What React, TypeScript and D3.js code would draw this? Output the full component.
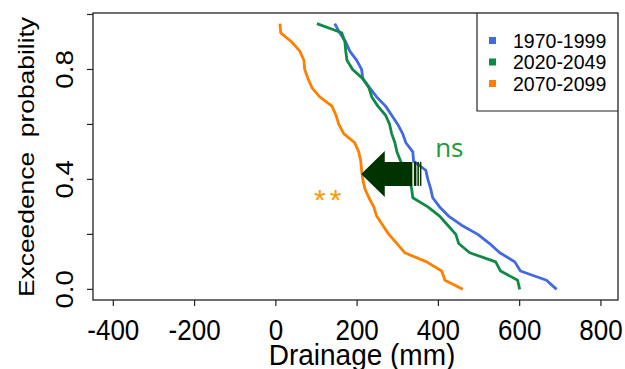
import React from "react";
import * as d3 from "d3";

const seriesNames = ["1970-1999", "2020-2049", "2070-2099"];
const seriesColors = ["#4169E1", "#0E8A45", "#FF7F00"];

const drainage1970 = [145, 157, 172, 182, 199, 211, 214, 231, 248, 270, 285, 300, 312, 320, 337, 339, 369, 374, 381, 386, 403, 425, 457, 497, 526, 551, 588, 602, 666, 691];
const drainage2020 = [101, 162, 170, 172, 175, 189, 214, 229, 236, 251, 270, 280, 285, 293, 298, 307, 320, 329, 334, 337, 374, 403, 423, 443, 450, 477, 541, 553, 595, 600];
const drainage2070 = [10, 12, 39, 59, 69, 71, 79, 89, 108, 138, 148, 155, 167, 194, 204, 209, 211, 214, 219, 229, 241, 248, 263, 278, 298, 317, 371, 408, 416, 460];

const xTicks = [-400, -200, 0, 200, 400, 600, 800];
const yTicks = [0, 0.2, 0.4, 0.6, 0.8, 1.0];
const yTickLabels = ["0.0", "", "0.4", "", "0.8", ""];

// arrow annotation (drainage from -> to at probability level)
const arrowFrom = 336;
const arrowHeadBase = 268;
const arrowTo = 210;
const arrowProb = 0.42;

const W = 625;
const H = 369;
const FONT = "'Liberation Sans', Arial, sans-serif";

function exceedence(values: number[]) {
  const n = values.length;
  return values.map((v) => ({ x: v, p: values.filter((o) => o > v).length / n }));
}

export default function App() {
  const x = d3.scaleLinear().domain([-450, 842]).range([93, 618]);
  const y = d3.scaleLinear().domain([-0.0387, 1.0054]).range([300, 13]);
  const line = d3
    .line<{ x: number; p: number }>()
    .x((d) => x(d.x))
    .y((d) => y(d.p));
  const all = [drainage1970, drainage2020, drainage2070];
  const vs = 1.15;

  const ay = y(arrowProb);
  const tipX = x(arrowTo);
  const baseX = x(arrowHeadBase);
  const endX = x(arrowFrom);
  const arrowPath = `M${tipX},${ay} L${baseX},${ay - 23} L${baseX},${ay - 12} L${endX},${ay - 12} L${endX},${ay + 12} L${baseX},${ay + 12} L${baseX},${ay + 23} Z`;

  return (
    <svg width={W} height={H} style={{ position: "absolute", left: 0, top: 0, background: "#fff" }} fontFamily={FONT}>
      {/* plot box */}
      <rect x={93} y={13} width={525} height={287} fill="none" stroke="#222" strokeWidth={1.3} />
      {/* x ticks */}
      {xTicks.map((t) => (
        <g key={"x" + t}>
          <line x1={x(t)} x2={x(t)} y1={300} y2={306} stroke="#222" strokeWidth={1.2} />
          <text transform={`translate(${x(t)},340) scale(1,${vs})`} textAnchor="middle" fontSize={26} fill="#000">
            {t}
          </text>
        </g>
      ))}
      {/* y ticks */}
      {yTicks.map((t, i) => (
        <g key={"y" + t}>
          <line x1={87} x2={93} y1={y(t)} y2={y(t)} stroke="#222" strokeWidth={1.2} />
          {yTickLabels[i] && (
            <text transform={`translate(73,${y(t)}) scale(1,1.2) rotate(-90)`} textAnchor="middle" fontSize={23} fill="#000">
              {yTickLabels[i]}
            </text>
          )}
        </g>
      ))}
      {/* axis titles */}
      <text transform={`translate(362,365) scale(1,1.05)`} textAnchor="middle" fontSize={28} fill="#000">
        Drainage (mm)
      </text>
      <text transform={`translate(34,157) scale(1,1.2) rotate(-90)`} textAnchor="middle" fontSize={22} fill="#000" style={{ whiteSpace: "pre" }}>
        {"Exceedence  probability"}
      </text>

      {/* lines */}
      {all.map((vals, i) => (
        <path key={i} d={line(exceedence(vals)) || ""} fill="none" stroke={seriesColors[i]} strokeWidth={2.8} strokeLinejoin="round" />
      ))}

      {/* legend */}
      <path d="M477,13 L477,111 L618,111" fill="none" stroke="#222" strokeWidth={1.2} />
      {seriesNames.map((s, i) => (
        <g key={s}>
          <rect x={489} y={37 + i * 21.5} width={7} height={7} fill={seriesColors[i]} />
          <text x={513} y={47.5 + i * 21.5} fontSize={19.5} fill="#000">
            {s}
          </text>
        </g>
      ))}

      {/* arrow annotation */}
      <path d={arrowPath} fill="#003300" />
      <rect x={endX + 1.5} y={ay - 12} width={2.5} height={24} fill="#003300" />
      <rect x={endX + 5} y={ay - 12} width={1.5} height={24} fill="#003300" />
      <rect x={endX + 7.5} y={ay - 12} width={1.5} height={24} fill="#003300" />
      <text x={x(392)} y={y(0.48)} fontSize={26} fill="#22993A" fontFamily="'Open Sans', sans-serif">
        ns
      </text>
      <text x={314} y={209.5} fontSize={30} fill="#FF9900" letterSpacing={4}>
        **
      </text>
    </svg>
  );
}
